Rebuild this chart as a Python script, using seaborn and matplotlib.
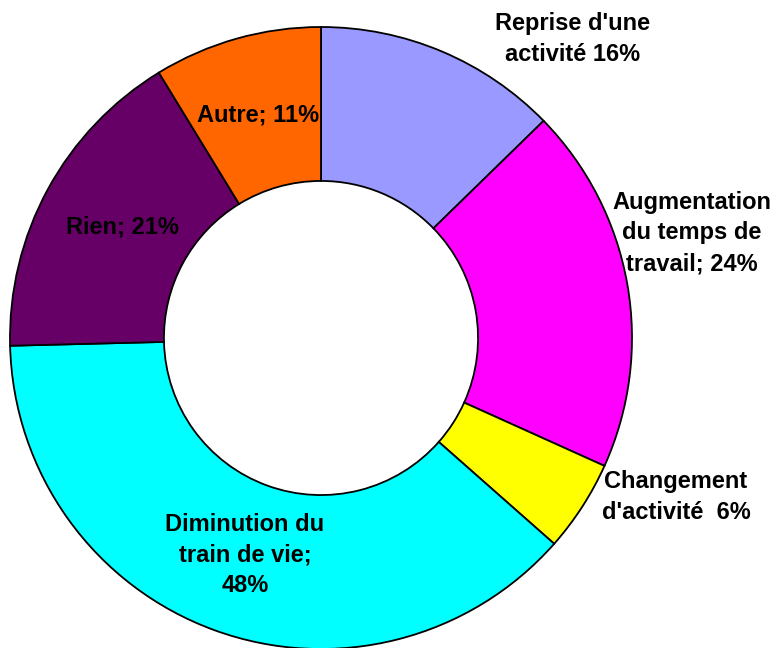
import matplotlib
matplotlib.use("Agg")
import matplotlib.pyplot as plt
import seaborn as sns

# Data (multiple answers allowed, so the shares add up to more than 100)
labels = ["Reprise d'une\nactivité 16%",
          "Augmentation\ndu temps de\ntravail; 24%",
          "Changement\nd'activité  6%",
          "Diminution du\ntrain de vie;\n48%",
          "Rien; 21%",
          "Autre; 11%"]
values = [16, 24, 6, 48, 21, 11]
colors = ["#9999FF", "#FF00FF", "#FFFF00", "#00FFFF", "#660066", "#FF6600"]

# label positions in pixels of the 775x648 picture (centre of each text block)
label_px = [(573, 39), (692, 233), (676, 497), (245, 555), (122, 227), (258, 115)]

sns.set_theme(style="white")
plt.rcParams["font.family"] = ["Liberation Sans", "DejaVu Sans"]

W, H = 775, 648
fig = plt.figure(figsize=(W / 100, H / 100), dpi=100)
fig.patch.set_facecolor("white")

# pie centre at (321, 338) px, outer radius 311 px
cx, cy, r = 321, 338, 311
ax = fig.add_axes([(cx - r) / W, (H - cy - r) / H, 2 * r / W, 2 * r / H])
ax.pie(values, colors=colors, startangle=90, counterclock=False,
       radius=1.0, wedgeprops=dict(width=0.495, edgecolor="black", linewidth=1.3))
ax.set_xlim(-1, 1)
ax.set_ylim(-1, 1)
ax.set_aspect("equal")
ax.axis("off")

for text, (px, py) in zip(labels, label_px):
    fig.text(px / W, 1 - py / H, text, ha="center", va="center",
             fontsize=17, fontweight="bold", color="black",
             linespacing=1.42, multialignment="center")

fig.savefig("out.png", dpi=100, facecolor="white")
plt.close(fig)
